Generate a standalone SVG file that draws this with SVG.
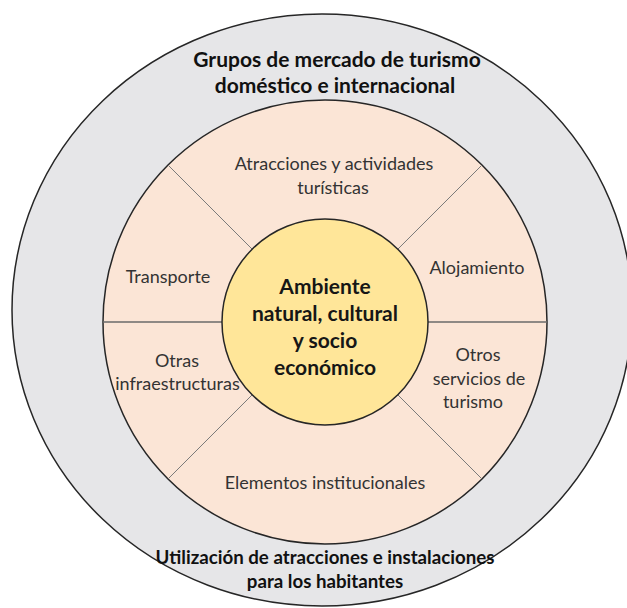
<svg xmlns="http://www.w3.org/2000/svg" width="627" height="608" viewBox="0 0 627 608">
  <style>
    .ring { stroke: #262626; stroke-width: 1.5; }
    .outer { fill: #E6E6E8; }
    .middle { fill: #FBE5D6; }
    .core { fill: #FFE699; }
    .div { stroke: #7a7a7a; stroke-width: 1; fill: none; }
    .divh { stroke: #6a6a6a; stroke-width: 1.3; fill: none; }
    text { font-family: Lato, "Open Sans", "Liberation Sans", sans-serif; text-anchor: middle; }
    .lab { font-size: 18px; fill: #333333; }
    .top { font-size: 21px; font-weight: bold; fill: #111111; }
    .bot { font-size: 18.7px; font-weight: bold; fill: #111111; }
    .core-t { font-size: 21px; font-weight: bold; fill: #161616; }
  </style>
  <rect width="627" height="608" fill="#ffffff"/>
  <g id="outer-ring">
    <ellipse class="ring outer" cx="322" cy="310" rx="310" ry="296"/>
    <text class="top" x="337" y="67">Grupos de mercado de turismo</text>
    <text class="top" x="335" y="93">doméstico e internacional</text>
    <text class="bot" x="325" y="564">Utilización de atracciones e instalaciones</text>
    <text class="bot" x="325" y="588">para los habitantes</text>
  </g>
  <g id="middle-ring">
    <circle class="ring middle" cx="325" cy="322" r="222"/>
  </g>
  <g id="dividers">
    <line class="div" x1="252.2" y1="249.2" x2="168" y2="165"/>
    <line class="div" x1="397.8" y1="249.2" x2="482" y2="165"/>
    <line class="div" x1="252.2" y1="394.8" x2="168" y2="479"/>
    <line class="div" x1="397.8" y1="394.8" x2="482" y2="479"/>
    <line class="divh" x1="103" y1="322" x2="222" y2="322"/>
    <line class="divh" x1="428" y1="322" x2="547" y2="322"/>
  </g>
  <g id="seg-atracciones">
    <text class="lab" x="334" y="170">Atracciones y actividades</text>
    <text class="lab" x="333" y="194">turísticas</text>
  </g>
  <g id="seg-alojamiento">
    <text class="lab" x="477" y="274">Alojamiento</text>
  </g>
  <g id="seg-otros-servicios">
    <text class="lab" x="478" y="361">Otros</text>
    <text class="lab" x="479" y="385">servicios de</text>
    <text class="lab" x="473" y="408">turismo</text>
  </g>
  <g id="seg-elementos">
    <text class="lab" x="325" y="489">Elementos institucionales</text>
  </g>
  <g id="seg-otras-infra">
    <text class="lab" x="177" y="367">Otras</text>
    <text class="lab" x="177.5" y="390">infraestructuras</text>
  </g>
  <g id="seg-transporte">
    <text class="lab" x="168" y="283">Transporte</text>
  </g>
  <g id="center">
    <circle class="ring core" cx="325" cy="322" r="103"/>
    <text class="core-t" x="325" y="294">Ambiente</text>
    <text class="core-t" x="325" y="321">natural, cultural</text>
    <text class="core-t" x="325" y="348">y socio</text>
    <text class="core-t" x="325" y="375">económico</text>
  </g>
</svg>
